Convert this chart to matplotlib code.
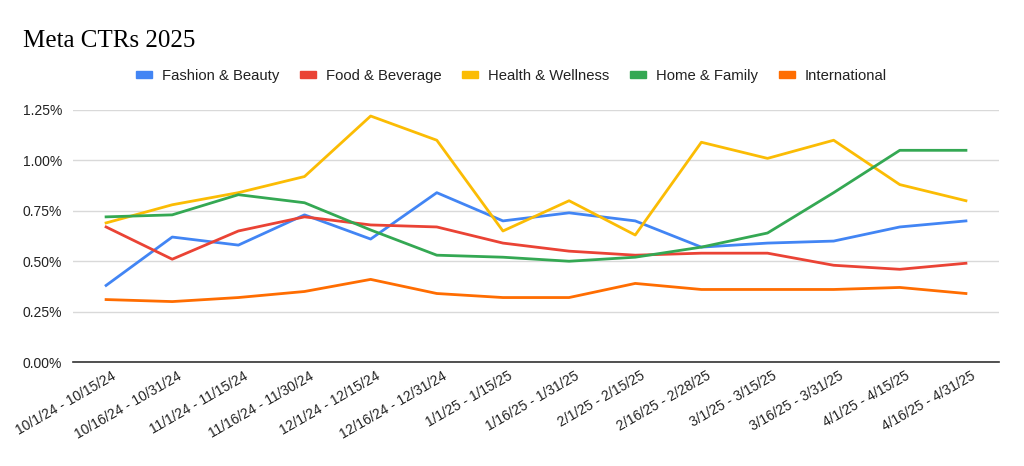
import numpy as np
import matplotlib.pyplot as plt
import matplotlib.transforms as mtransforms
from matplotlib.patches import Patch
from matplotlib.ticker import FuncFormatter

periods = ['10/1/24 - 10/15/24', '10/16/24 - 10/31/24', '11/1/24 - 11/15/24',
           '11/16/24 - 11/30/24', '12/1/24 - 12/15/24', '12/16/24 - 12/31/24',
           '1/1/25 - 1/15/25', '1/16/25 - 1/31/25', '2/1/25 - 2/15/25',
           '2/16/25 - 2/28/25', '3/1/25 - 3/15/25', '3/16/25 - 3/31/25',
           '4/1/25 - 4/15/25', '4/16/25 - 4/31/25']

fashion = [0.38, 0.62, 0.58, 0.73, 0.61, 0.84, 0.70, 0.74, 0.70, 0.57, 0.59, 0.60, 0.67, 0.70]
food = [0.67, 0.51, 0.65, 0.72, 0.68, 0.67, 0.59, 0.55, 0.53, 0.54, 0.54, 0.48, 0.46, 0.49]
health = [0.69, 0.78, 0.84, 0.92, 1.22, 1.10, 0.65, 0.80, 0.63, 1.09, 1.01, 1.10, 0.88, 0.80]
home = [0.72, 0.73, 0.83, 0.79, 0.655, 0.53, 0.52, 0.50, 0.52, 0.57, 0.64, 0.84, 1.05, 1.05]
intl = [0.31, 0.30, 0.32, 0.35, 0.41, 0.34, 0.32, 0.32, 0.39, 0.36, 0.36, 0.36, 0.37, 0.34]

names = ['Fashion & Beauty', 'Food & Beverage', 'Health & Wellness', 'Home & Family', 'International']
colors = ['#4285F4', '#EA4335', '#FBBC04', '#34A853', '#FF6D01']
series = [fashion, food, health, home, intl]

plt.rcParams['font.family'] = ['Liberation Sans', 'DejaVu Sans']

fig = plt.figure(figsize=(10.24, 4.66), dpi=100)
ax = fig.add_axes([0.0713, 0.223, 0.9043, 0.541])

x = np.arange(len(periods))
for s, c in zip(series, colors):
    ax.plot(x, s, color=c, lw=2, solid_joinstyle='round')

ax.set_xlim(-0.5, len(periods) - 0.5)
ax.set_ylim(0, 1.25)
ax.set_yticks([0, 0.25, 0.5, 0.75, 1.0, 1.25])
ax.yaxis.set_major_formatter(FuncFormatter(lambda v, p: '%.2f%%' % v))
ax.grid(axis='y', color='#d9d9d9', lw=1)
ax.set_axisbelow(True)
for sp in ['top', 'right', 'left']:
    ax.spines[sp].set_visible(False)
ax.spines['bottom'].set_color('#333333')
ax.spines['bottom'].set_linewidth(1.2)
ax.tick_params(axis='both', length=0, labelsize=10, labelcolor='#222222')
ax.tick_params(axis='y', pad=8)
ax.set_xticks(x)
ax.set_xticklabels(periods, rotation=30, ha='right', rotation_mode='anchor')

# nudge the slanted labels a little right, like the sheets chart
shift = mtransforms.ScaledTranslation(5 / 100, -2 / 100, fig.dpi_scale_trans)
for lab in ax.get_xticklabels():
    lab.set_transform(lab.get_transform() + shift)

fig.text(0.0225, 0.899, 'Meta CTRs 2025', family='Liberation Serif', fontsize=18, color='#000000',
         va='baseline')

handles = [Patch(facecolor=c, edgecolor=c) for c in colors]
fig.legend(handles, names, loc='center', bbox_to_anchor=(0.4995, 0.837), ncol=5, frameon=False,
           fontsize=10.7, handlelength=1.07, handleheight=0.4, handletextpad=0.67, columnspacing=1.4,
           labelcolor='#222222')

fig.savefig('out.png', dpi=100)
